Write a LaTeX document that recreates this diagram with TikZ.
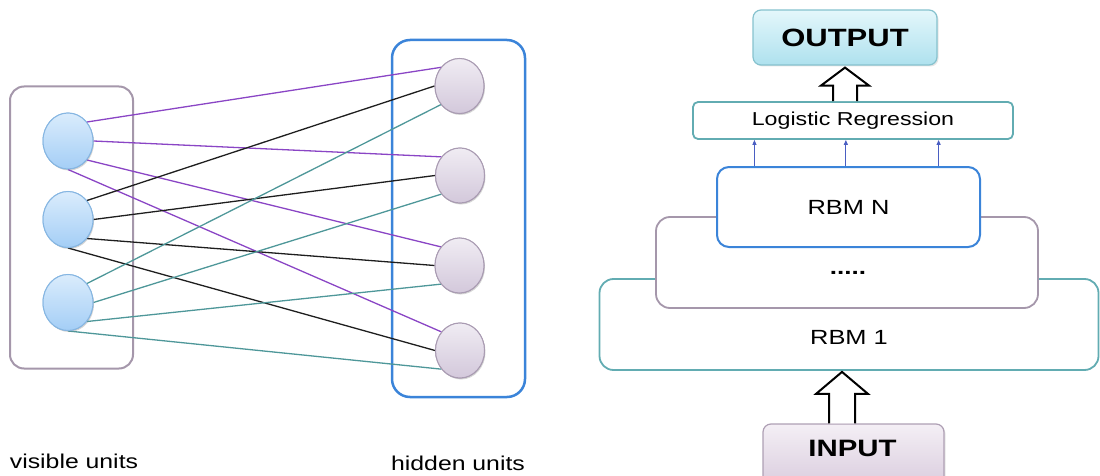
\documentclass[tikz,border=0pt]{standalone}
\usepackage{fontspec}
\setmainfont{Liberation Sans}[FakeStretch=1.24]
\usetikzlibrary{calc,shadows,arrows.meta,shapes.geometric}

\definecolor{visTop}{HTML}{DAECFC}
\definecolor{visBot}{HTML}{A4CEF6}
\definecolor{visLine}{HTML}{86B6E2}
\definecolor{hidTop}{HTML}{F0ECF3}
\definecolor{hidBot}{HTML}{D3C8DB}
\definecolor{hidLine}{HTML}{A99BB2}
\definecolor{outTop}{HTML}{E4F7FB}
\definecolor{outBot}{HTML}{AEE1EE}
\definecolor{outLine}{HTML}{86C2CE}
\definecolor{inTop}{HTML}{F4EFF5}
\definecolor{inBot}{HTML}{DBCEDF}
\definecolor{inLine}{HTML}{AE9FB4}
\definecolor{tealLine}{HTML}{62ACB2}
\definecolor{greyLine}{HTML}{A597AB}
\definecolor{blueLine}{HTML}{3B84D9}
\definecolor{edgePurple}{HTML}{8A45C5}
\definecolor{edgeBlack}{HTML}{1E1E1E}
\definecolor{edgeTeal}{HTML}{4E9799}
\definecolor{tickBlue}{HTML}{4A5EC2}

\tikzset{
  unitbox/.style={draw, rounded corners=#1, fill=white, inner sep=0pt},
  visunit/.style={ellipse, draw=visLine, line width=1pt, top color=visTop,
    bottom color=visBot, minimum width=50pt, minimum height=56pt, inner sep=0pt,
    drop shadow={opacity=0.18, shadow xshift=1pt, shadow yshift=-1.5pt}},
  hidunit/.style={ellipse, draw=hidLine, line width=1pt, top color=hidTop,
    bottom color=hidBot, minimum width=49pt, minimum height=55pt, inner sep=0pt,
    drop shadow={opacity=0.18, shadow xshift=1pt, shadow yshift=-1.5pt}},
  edgeline/.style={line width=1.3pt},
  hollow/.style={draw=black, line width=2pt, fill=white, line join=miter},
  tick/.style={draw=tickBlue, line width=1pt, -{Triangle[length=5pt,width=4pt]}},
  lbl/.style={inner sep=0pt, text=black},
}

\begin{document}
\begin{tikzpicture}[x=1pt, y=-1pt]
\useasboundingbox (0,0) rectangle (1100,476);

% ---------- restricted Boltzmann machine ----------
\node[unitbox=14pt, draw=greyLine, line width=2pt, minimum width=123pt, minimum height=282pt, fill=none] (visbox) at (71.5,227.5) {};
\node[unitbox=18pt, draw=blueLine, line width=2.5pt, minimum width=133pt, minimum height=357pt, fill=none] (hidbox) at (458.5,218.5) {};

\node[visunit] (v1) at (68,141) {};
\node[visunit] (v2) at (68,219.5) {};
\node[visunit] (v3) at (68,302.5) {};

\node[hidunit] (h1) at (459.5,86) {};
\node[hidunit] (h2) at (460,175.5) {};
\node[hidunit] (h3) at (459.5,265.5) {};
\node[hidunit] (h4) at (460,350.5) {};

% weights: visible unit i leaves at a fixed angle per hidden unit,
% and enters each hidden unit at a fixed angle per visible unit
\foreach \v/\col/\hin in {v1/edgePurple/135, v2/edgeBlack/180, v3/edgeTeal/225}{
  \foreach \h/\vout in {h1/45, h2/0, h3/-45, h4/-90}{
    \draw[edgeline, draw=\col] (\v.\vout) -- (\h.\hin);
  }
}
% redraw the units above the weights
\node[visunit] at (v1) {};
\node[visunit] at (v2) {};
\node[visunit] at (v3) {};
\node[hidunit] at (h1) {};
\node[hidunit] at (h2) {};
\node[hidunit] at (h3) {};
\node[hidunit] at (h4) {};

\node[lbl, font=\fontsize{20}{22}\selectfont] (vislbl) at (74,461) {visible units};
\node[lbl, font=\fontsize{20}{22}\selectfont] (hidlbl) at (458,463) {hidden units};

% ---------- deep belief network stack ----------
\node[unitbox=14pt, draw=tealLine, line width=1.8pt, minimum width=499pt, minimum height=91pt] (rbm1) at (849,324.5) {};
\node[unitbox=14pt, draw=greyLine, line width=1.8pt, minimum width=382pt, minimum height=91pt] (mid) at (847,262.5) {};
\node[unitbox=12pt, draw=blueLine, line width=2pt, minimum width=263pt, minimum height=80pt] (rbmN) at (848.5,207) {};

\node[lbl, font=\fontsize{20.5}{22}\selectfont] (rbmNtxt) at (rbmN) {RBM N};
\node[lbl, font=\bfseries\fontsize{21}{22}\selectfont, anchor=base] (dots) at (848,274) {.....};
\node[lbl, font=\fontsize{20.5}{22}\selectfont] (rbm1txt) at (849,337) {RBM 1};

\node[unitbox=5pt, draw=tealLine, line width=1.8pt, minimum width=320pt, minimum height=37pt,
      font=\fontsize{18.7}{20}\selectfont] (lr) at (853,120.5) {Logistic Regression};

\node[unitbox=8pt, draw=outLine, line width=1.2pt, top color=outTop, bottom color=outBot,
      minimum width=184pt, minimum height=55pt, font=\bfseries\fontsize{25}{26}\selectfont,
      drop shadow={opacity=0.2, shadow xshift=1.5pt, shadow yshift=-1.5pt}] (output) at (845,37.5) {OUTPUT};

\node[unitbox=8pt, draw=inLine, line width=1.2pt, top color=inTop, bottom color=inBot,
      minimum width=181pt, minimum height=60pt,
      drop shadow={opacity=0.2, shadow xshift=1.5pt, shadow yshift=-1.5pt}] (input) at (853.5,454) {};
\node[lbl, font=\bfseries\fontsize{23.7}{25}\selectfont] (intxt) at (852.5,448) {INPUT};

% thin arrows from the top RBM into the regression layer
\foreach \f in {0.145, 0.49, 0.84}{
  \coordinate (t) at ($(rbmN.north west)!\f!(rbmN.north east)$);
  \draw[tick] (t) -- (t |- lr.south);
}

% hollow arrow: regression -> output
\coordinate (ot) at ($(output.south)+(0,2)$);
\coordinate (ob) at (ot |- lr.north);
\draw[hollow] ($(ob)+(-12,0)$) -- ($(ot)+(-12,18)$) -- ($(ot)+(-24,18)$) -- (ot)
  -- ($(ot)+(24,18)$) -- ($(ot)+(12,18)$) -- ($(ob)+(12,0)$);

% hollow arrow: input -> first RBM
\coordinate (it) at ($(rbm1.south)+(-7,1)$);
\coordinate (ib) at (it |- input.north);
\draw[hollow] ($(ib)+(-13,0)$) -- ($(it)+(-13,22)$) -- ($(it)+(-26,22)$) -- (it)
  -- ($(it)+(26,22)$) -- ($(it)+(13,22)$) -- ($(ib)+(13,0)$);
\end{tikzpicture}
\end{document}
